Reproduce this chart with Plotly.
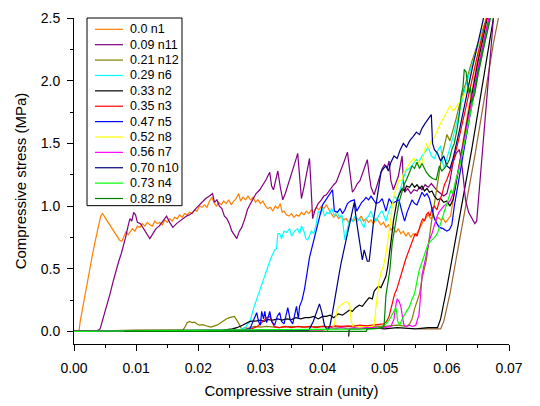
import plotly.graph_objects as go

# Stress-strain curves (strain, stress in MPa) for each sample
n1 = [(0.0, 0.0), (0.0008, 0.0), (0.001, 0.08), (0.0015, 0.22), (0.0021, 0.39), (0.0026, 0.5), (0.003, 0.62),
      (0.0035, 0.74), (0.0039, 0.83), (0.0043, 0.92), (0.0046, 0.94), (0.005, 0.91), (0.0054, 0.88), (0.0058, 0.84),
      (0.0061, 0.82), (0.0065, 0.79), (0.0069, 0.76), (0.0073, 0.73), (0.0077, 0.72), (0.008, 0.76), (0.0084, 0.8),
      (0.0087, 0.77), (0.009, 0.79), (0.0094, 0.82), (0.0098, 0.8), (0.0102, 0.84), (0.0106, 0.83), (0.011, 0.86),
      (0.0114, 0.84), (0.0118, 0.87), (0.0122, 0.85), (0.0126, 0.84), (0.013, 0.88), (0.0134, 0.86), (0.0138, 0.87),
      (0.0142, 0.85), (0.0146, 0.89), (0.015, 0.87), (0.0154, 0.9), (0.0158, 0.88), (0.0162, 0.91), (0.0166, 0.9),
      (0.017, 0.93), (0.0174, 0.91), (0.0178, 0.94), (0.0182, 0.93), (0.0186, 0.95), (0.019, 0.94), (0.0194, 0.97),
      (0.0198, 0.96), (0.0202, 1.0), (0.0206, 0.99), (0.021, 1.01), (0.0214, 0.99), (0.0218, 1.04), (0.0222, 1.07),
      (0.0225, 1.03), (0.0229, 1.0), (0.0233, 1.03), (0.0237, 1.01), (0.0241, 1.04), (0.0245, 1.02), (0.0249, 1.05),
      (0.0253, 1.01), (0.0257, 1.04), (0.0261, 1.06), (0.0265, 1.1), (0.0268, 1.04), (0.0272, 1.07), (0.0276, 1.05),
      (0.028, 1.08), (0.0284, 1.05), (0.0288, 1.07), (0.0292, 1.03), (0.0296, 1.05), (0.03, 1.02), (0.0304, 1.04),
      (0.0308, 1.0), (0.0312, 0.98), (0.0316, 0.99), (0.032, 0.96), (0.0324, 1.0), (0.0328, 0.98), (0.0332, 1.02),
      (0.0335, 0.95), (0.0338, 0.96), (0.0342, 0.93), (0.0346, 0.92), (0.035, 0.94), (0.0354, 0.91), (0.0358, 0.93),
      (0.0362, 0.92), (0.0366, 0.95), (0.037, 0.93), (0.0374, 0.96), (0.0378, 0.94), (0.0382, 0.97), (0.0386, 0.95),
      (0.039, 0.99), (0.0394, 0.97), (0.0398, 1.0), (0.0402, 0.98), (0.0406, 1.01), (0.041, 0.97), (0.0414, 0.94),
      (0.0418, 0.91), (0.0422, 0.93), (0.0426, 0.9), (0.043, 0.92), (0.0434, 0.89), (0.0438, 0.9), (0.0442, 0.87),
      (0.0446, 0.9), (0.045, 0.88), (0.0454, 0.91), (0.0458, 0.89), (0.0462, 0.92), (0.0466, 0.88), (0.047, 0.9),
      (0.0474, 0.87), (0.0478, 0.89), (0.0482, 0.86), (0.0486, 0.9), (0.049, 0.88), (0.0494, 0.85), (0.0498, 0.87),
      (0.0502, 0.83), (0.0506, 0.85), (0.051, 0.81), (0.0514, 0.83), (0.0518, 0.79), (0.0522, 0.82), (0.0526, 0.78),
      (0.053, 0.8), (0.0534, 0.76), (0.0538, 0.79), (0.0542, 0.75), (0.0546, 0.78), (0.055, 0.77), (0.0554, 0.8),
      (0.0558, 0.84), (0.0562, 0.88), (0.0566, 0.9), (0.057, 0.93), (0.0574, 0.9), (0.0578, 0.92), (0.0582, 0.88),
      (0.0586, 0.91), (0.059, 0.89), (0.0594, 0.9), (0.0598, 0.87), (0.0602, 0.9), (0.0606, 0.92), (0.061, 1.05),
      (0.0615, 1.2), (0.062, 1.35), (0.0625, 1.5), (0.063, 1.62), (0.0635, 1.78), (0.064, 1.9), (0.0645, 2.05),
      (0.065, 2.18), (0.0655, 2.3), (0.066, 2.42), (0.0664, 2.5)]

n11 = [(0.0, 0.0), (0.0035, 0.0), (0.0042, 0.02), (0.0048, 0.12), (0.0053, 0.22), (0.0058, 0.3), (0.0063, 0.4),
       (0.0068, 0.5), (0.0072, 0.56), (0.0076, 0.62), (0.0079, 0.67), (0.0083, 0.75), (0.0087, 0.84), (0.009, 0.9),
       (0.0093, 0.88), (0.0096, 0.95), (0.0099, 0.93), (0.0102, 0.87), (0.0107, 0.86), (0.0112, 0.82), (0.0117, 0.78),
       (0.0122, 0.74), (0.0127, 0.78), (0.0132, 0.82), (0.0137, 0.84), (0.0143, 0.88), (0.0149, 0.92), (0.0154, 0.87),
       (0.0159, 0.83), (0.0165, 0.86), (0.017, 0.88), (0.0176, 0.9), (0.0181, 0.92), (0.0186, 0.93), (0.0191, 0.95),
       (0.0196, 0.98), (0.0202, 1.01), (0.0207, 1.04), (0.0212, 1.06), (0.0218, 1.08), (0.0223, 1.1), (0.0226, 1.03),
       (0.023, 1.05), (0.0234, 1.0), (0.0238, 0.98), (0.0242, 0.92), (0.0246, 0.9), (0.025, 0.86), (0.0254, 0.8),
       (0.0258, 0.77), (0.0262, 0.74), (0.0266, 0.8), (0.027, 0.83), (0.0275, 0.9), (0.0279, 0.97), (0.0283, 1.01),
       (0.0288, 1.05), (0.0293, 1.1), (0.0299, 1.13), (0.0304, 1.17), (0.0309, 1.21), (0.0315, 1.27), (0.0318, 1.16),
       (0.0321, 1.13), (0.0325, 1.22), (0.0328, 1.28), (0.0332, 1.15), (0.0336, 1.05), (0.034, 1.1), (0.0344, 1.16),
       (0.0347, 1.21), (0.035, 1.25), (0.0354, 1.32), (0.0357, 1.37), (0.036, 1.42), (0.0363, 1.2), (0.0366, 1.06),
       (0.037, 1.15), (0.0374, 1.25), (0.0379, 1.38), (0.0381, 1.2), (0.0384, 0.9), (0.0388, 0.97), (0.0393, 1.02),
       (0.0398, 1.05), (0.0402, 1.08), (0.0406, 1.09), (0.041, 1.12), (0.0414, 1.15), (0.0418, 1.17), (0.0422, 1.19),
       (0.0427, 1.25), (0.0431, 1.3), (0.0435, 1.36), (0.044, 1.43), (0.0444, 1.25), (0.0448, 1.11), (0.0452, 1.14),
       (0.0456, 1.18), (0.046, 1.2), (0.0464, 1.26), (0.0468, 1.31), (0.0472, 1.37), (0.0475, 1.25), (0.0478, 1.15),
       (0.0483, 1.09), (0.0487, 1.15), (0.0491, 1.22), (0.0496, 1.3), (0.05, 1.33), (0.0504, 1.3), (0.0507, 1.36),
       (0.051, 1.2), (0.0514, 1.13), (0.0518, 1.18), (0.0522, 1.24), (0.0525, 1.32), (0.0528, 1.4), (0.053, 1.2),
       (0.0532, 1.11), (0.0537, 1.14), (0.0542, 1.1), (0.0547, 1.13), (0.0552, 1.12), (0.0556, 1.15), (0.056, 1.13),
       (0.0565, 1.17), (0.057, 1.15), (0.0575, 1.18), (0.058, 1.15), (0.0585, 1.12), (0.059, 1.1), (0.0595, 1.08),
       (0.06, 1.1), (0.0605, 1.2), (0.061, 1.35), (0.0615, 1.42), (0.062, 1.45), (0.0623, 1.38), (0.0627, 1.2),
       (0.063, 1.05), (0.0635, 0.95), (0.064, 0.9), (0.0645, 0.86), (0.0648, 0.88), (0.065, 1.0), (0.0655, 1.3),
       (0.066, 1.6), (0.0665, 1.9), (0.067, 2.2), (0.0675, 2.5)]

n12 = [(0.0, 0.0), (0.005, 0.005), (0.01, 0.01), (0.0175, 0.01), (0.0178, 0.03), (0.0182, 0.07), (0.0186, 0.08),
       (0.019, 0.07), (0.0194, 0.075), (0.0198, 0.06), (0.0202, 0.05), (0.0207, 0.055), (0.0212, 0.05), (0.0216, 0.04),
       (0.022, 0.035), (0.0225, 0.04), (0.023, 0.05), (0.0235, 0.065), (0.024, 0.085), (0.0245, 0.1), (0.025, 0.11),
       (0.0255, 0.115), (0.0258, 0.12), (0.0262, 0.09), (0.0266, 0.05), (0.027, 0.02), (0.0275, 0.03), (0.028, 0.025),
       (0.029, 0.04), (0.03, 0.035), (0.031, 0.04), (0.033, 0.03), (0.035, 0.04), (0.037, 0.035), (0.04, 0.04),
       (0.043, 0.035), (0.046, 0.045), (0.05, 0.04), (0.052, 0.05), (0.0535, 0.04), (0.054, 0.06), (0.0544, 0.1),
       (0.0548, 0.18), (0.0552, 0.25), (0.0556, 0.3), (0.056, 0.42), (0.0564, 0.5), (0.0567, 0.57), (0.057, 0.68),
       (0.0573, 0.8), (0.0576, 0.9), (0.058, 1.02), (0.0584, 1.16), (0.0588, 1.28), (0.0592, 1.4), (0.0596, 1.48),
       (0.06, 1.57), (0.0605, 1.52), (0.061, 1.6), (0.0615, 1.7), (0.062, 1.8), (0.063, 1.98), (0.064, 2.15),
       (0.065, 2.3), (0.066, 2.45), (0.0664, 2.5)]

n6 = [(0.0, 0.0), (0.01, 0.005), (0.02, 0.005), (0.0265, 0.01), (0.0275, 0.03), (0.0283, 0.08), (0.029, 0.2),
      (0.0294, 0.26), (0.0299, 0.32), (0.0304, 0.4), (0.031, 0.49), (0.0315, 0.56), (0.032, 0.62), (0.0323, 0.65),
      (0.0326, 0.66), (0.0328, 0.78), (0.0331, 0.78), (0.0334, 0.74), (0.0338, 0.8), (0.0342, 0.79), (0.0347, 0.82),
      (0.035, 0.76), (0.0355, 0.8), (0.036, 0.82), (0.0363, 0.78), (0.0366, 0.84), (0.037, 0.8), (0.0373, 0.74),
      (0.0376, 0.73), (0.0379, 0.76), (0.0382, 0.8), (0.0386, 0.78), (0.039, 0.86), (0.0393, 0.96), (0.0397, 0.94),
      (0.04, 0.98), (0.0403, 0.92), (0.0407, 0.95), (0.0411, 0.94), (0.0415, 0.98), (0.0419, 0.92), (0.0423, 0.96),
      (0.0427, 0.91), (0.0431, 0.93), (0.0434, 0.78), (0.0436, 0.73), (0.044, 0.82), (0.0444, 0.9), (0.0448, 0.88),
      (0.0452, 0.92), (0.0456, 0.88), (0.046, 0.9), (0.0464, 0.85), (0.0467, 0.83), (0.047, 0.9), (0.0474, 0.92),
      (0.0478, 0.96), (0.0482, 0.9), (0.0486, 0.88), (0.049, 0.92), (0.0493, 0.95), (0.0496, 0.96), (0.05, 0.9),
      (0.0502, 0.88), (0.0506, 0.95), (0.051, 1.0), (0.0512, 1.03), (0.0516, 1.08), (0.052, 1.05), (0.0524, 1.12),
      (0.0528, 1.2), (0.0532, 1.25), (0.0535, 1.29), (0.054, 1.3), (0.0545, 1.33), (0.0551, 1.37), (0.0555, 1.35),
      (0.056, 1.4), (0.0565, 1.43), (0.057, 1.47), (0.0575, 1.4), (0.058, 1.38), (0.0585, 1.44), (0.059, 1.48),
      (0.0593, 1.35), (0.0596, 1.3), (0.06, 1.38), (0.061, 1.55), (0.062, 1.75), (0.063, 1.95), (0.064, 2.12),
      (0.065, 2.28), (0.066, 2.42), (0.0665, 2.5)]

n2 = [(0.0, 0.005), (0.01, 0.008), (0.02, 0.01), (0.024, 0.01), (0.0255, 0.02), (0.0262, 0.03), (0.0271, 0.05),
      (0.0283, 0.08), (0.0294, 0.085), (0.03, 0.09), (0.0306, 0.08), (0.0312, 0.095), (0.032, 0.09), (0.0328, 0.1),
      (0.0335, 0.09), (0.0342, 0.1), (0.035, 0.095), (0.0357, 0.11), (0.0365, 0.1), (0.0372, 0.11), (0.0379, 0.11),
      (0.0386, 0.12), (0.0393, 0.1), (0.04, 0.12), (0.0406, 0.12), (0.0412, 0.13), (0.0418, 0.11), (0.0425, 0.14),
      (0.0432, 0.13), (0.0437, 0.15), (0.0443, 0.17), (0.0448, 0.16), (0.0453, 0.19), (0.0459, 0.21), (0.0464, 0.2),
      (0.047, 0.24), (0.0475, 0.27), (0.048, 0.26), (0.0483, 0.32), (0.0486, 0.34), (0.049, 0.36), (0.0494, 0.35),
      (0.0498, 0.4), (0.0502, 0.44), (0.0505, 0.52), (0.0508, 0.62), (0.0511, 0.75), (0.0514, 0.88), (0.0517, 0.98),
      (0.052, 1.05), (0.0524, 1.1), (0.0528, 1.14), (0.0532, 1.12), (0.0535, 1.16), (0.054, 1.15), (0.0544, 1.18),
      (0.0548, 1.15), (0.0552, 1.17), (0.0556, 1.14), (0.056, 1.16), (0.0564, 1.12), (0.0568, 1.14), (0.0572, 1.11),
      (0.0576, 1.12), (0.058, 1.08), (0.0585, 1.05), (0.059, 1.06), (0.0595, 1.03), (0.06, 1.04), (0.0605, 1.0),
      (0.061, 1.05), (0.0615, 1.18), (0.062, 1.32), (0.063, 1.6), (0.064, 1.88), (0.065, 2.15), (0.066, 2.38),
      (0.0665, 2.5)]

n3 = [(0.0, 0.0), (0.01, 0.005), (0.02, 0.005), (0.027, 0.01), (0.0285, 0.02), (0.0295, 0.04), (0.0302, 0.07),
      (0.031, 0.11), (0.0315, 0.12), (0.0318, 0.08), (0.0322, 0.04), (0.033, 0.03), (0.034, 0.04), (0.035, 0.03),
      (0.036, 0.04), (0.037, 0.035), (0.038, 0.04), (0.039, 0.03), (0.04, 0.04), (0.041, 0.035), (0.042, 0.045),
      (0.043, 0.04), (0.044, 0.045), (0.045, 0.04), (0.046, 0.05), (0.047, 0.045), (0.048, 0.05), (0.049, 0.055),
      (0.0498, 0.06), (0.0503, 0.08), (0.0507, 0.12), (0.051, 0.18), (0.0513, 0.24), (0.0516, 0.3), (0.0519, 0.33),
      (0.0522, 0.38), (0.0525, 0.45), (0.0528, 0.5), (0.0531, 0.55), (0.0534, 0.58), (0.0537, 0.62), (0.054, 0.66),
      (0.0543, 0.7), (0.0546, 0.74), (0.0549, 0.78), (0.0552, 0.76), (0.0555, 0.82), (0.0558, 0.86), (0.0561, 0.9),
      (0.0564, 0.88), (0.0567, 0.93), (0.057, 0.95), (0.0573, 0.92), (0.0576, 0.98), (0.058, 1.0), (0.0584, 0.97),
      (0.0588, 1.04), (0.0592, 1.09), (0.0596, 1.17), (0.06, 1.21), (0.0605, 1.28), (0.061, 1.35), (0.062, 1.55),
      (0.063, 1.78), (0.064, 2.0), (0.065, 2.22), (0.066, 2.42), (0.0664, 2.5)]

n5 = [(0.0, 0.0), (0.01, 0.005), (0.02, 0.005), (0.027, 0.01), (0.0283, 0.02), (0.0288, 0.08), (0.0294, 0.15),
      (0.0297, 0.08), (0.03, 0.05), (0.0302, 0.16), (0.0305, 0.1), (0.0307, 0.16), (0.031, 0.07), (0.0315, 0.16),
      (0.0318, 0.08), (0.0323, 0.05), (0.0327, 0.12), (0.0331, 0.15), (0.0334, 0.08), (0.0338, 0.06), (0.0344, 0.19),
      (0.0348, 0.09), (0.0352, 0.06), (0.0358, 0.2), (0.0361, 0.1), (0.0363, 0.2), (0.0367, 0.25), (0.0371, 0.34),
      (0.0374, 0.45), (0.0376, 0.52), (0.0379, 0.59), (0.0382, 0.65), (0.0387, 0.75), (0.0391, 0.85), (0.0395, 0.93),
      (0.04, 1.01), (0.0404, 1.04), (0.0408, 1.07), (0.0412, 1.1), (0.0416, 1.13), (0.0419, 0.96), (0.0424, 0.95),
      (0.0428, 0.98), (0.0432, 0.94), (0.0436, 0.97), (0.044, 1.02), (0.0445, 1.04), (0.0451, 1.05), (0.0455, 0.96),
      (0.0459, 1.0), (0.0463, 1.03), (0.0467, 1.05), (0.047, 1.07), (0.0474, 1.05), (0.0478, 1.08), (0.0482, 1.05),
      (0.0486, 1.02), (0.0491, 1.03), (0.0496, 1.06), (0.0502, 0.96), (0.0507, 1.06), (0.0512, 1.02), (0.0518, 1.04),
      (0.0523, 1.05), (0.0528, 0.95), (0.0532, 0.88), (0.0536, 0.95), (0.054, 1.0), (0.0544, 1.05), (0.0548, 1.02),
      (0.0552, 1.01), (0.0556, 1.06), (0.056, 1.11), (0.0564, 1.08), (0.0568, 1.1), (0.0572, 1.06), (0.0576, 0.98),
      (0.058, 0.9), (0.0584, 0.86), (0.0588, 0.83), (0.0594, 0.82), (0.06, 0.8), (0.0604, 0.81), (0.0608, 0.85),
      (0.0612, 1.0), (0.0617, 1.15), (0.0622, 1.3), (0.063, 1.52), (0.064, 1.8), (0.065, 2.08), (0.066, 2.32),
      (0.0668, 2.5)]

n8 = [(0.0, 0.0), (0.01, 0.005), (0.02, 0.005), (0.03, 0.01), (0.04, 0.01), (0.0415, 0.02), (0.0419, 0.06),
      (0.0422, 0.14), (0.0424, 0.18), (0.0427, 0.2), (0.043, 0.21), (0.0434, 0.22), (0.0438, 0.24), (0.0441, 0.23),
      (0.0444, 0.2), (0.0446, 0.08), (0.045, 0.03), (0.046, 0.04), (0.047, 0.035), (0.048, 0.04), (0.0483, 0.05),
      (0.0486, 0.2), (0.0488, 0.29), (0.0491, 0.4), (0.0494, 0.47), (0.0498, 0.52), (0.0502, 0.62), (0.0505, 0.72),
      (0.0509, 0.86), (0.0512, 1.0), (0.0515, 1.08), (0.0519, 1.15), (0.0523, 1.21), (0.0527, 1.2), (0.053, 1.26),
      (0.0535, 1.3), (0.054, 1.34), (0.0543, 1.36), (0.0547, 1.38), (0.0551, 1.33), (0.0555, 1.36), (0.0559, 1.32),
      (0.0563, 1.42), (0.0567, 1.5), (0.057, 1.46), (0.0575, 1.52), (0.058, 1.55), (0.0584, 1.6), (0.0588, 1.64),
      (0.0592, 1.68), (0.0596, 1.71), (0.06, 1.75), (0.0605, 1.8), (0.061, 1.76), (0.0615, 1.79), (0.062, 1.83),
      (0.0625, 1.86), (0.063, 1.9), (0.0635, 1.97), (0.064, 2.08), (0.065, 2.3), (0.066, 2.5)]

n7 = [(0.0, 0.0), (0.005, 0.0), (0.01, 0.005), (0.02, 0.005), (0.03, 0.01), (0.04, 0.01), (0.0415, 0.03),
      (0.042, 0.02), (0.043, 0.03), (0.044, 0.02), (0.045, 0.03), (0.046, 0.025), (0.047, 0.03), (0.048, 0.03),
      (0.049, 0.025), (0.05, 0.03), (0.051, 0.04), (0.0515, 0.1), (0.0518, 0.21), (0.052, 0.26), (0.0523, 0.24),
      (0.0526, 0.2), (0.0529, 0.1), (0.0531, 0.05), (0.0535, 0.04), (0.054, 0.05), (0.0545, 0.04), (0.055, 0.05),
      (0.0553, 0.1), (0.0555, 0.13), (0.0558, 0.3), (0.056, 0.45), (0.0563, 0.52), (0.0566, 0.6), (0.0569, 0.66),
      (0.0572, 0.73), (0.0576, 0.78), (0.058, 0.85), (0.0583, 0.9), (0.0587, 0.95), (0.0591, 0.98), (0.0595, 1.0),
      (0.06, 1.02), (0.0605, 1.04), (0.061, 1.1), (0.0615, 1.2), (0.062, 1.32), (0.063, 1.58), (0.064, 1.85),
      (0.065, 2.1), (0.066, 2.32), (0.0668, 2.5)]

n10 = [(0.0, 0.0), (0.01, 0.005), (0.02, 0.005), (0.03, 0.01), (0.036, 0.01), (0.0378, 0.01), (0.0385, 0.08),
       (0.039, 0.15), (0.0395, 0.22), (0.0399, 0.15), (0.0403, 0.05), (0.0408, 0.01), (0.0412, 0.05), (0.0416, 0.15),
       (0.042, 0.28), (0.0424, 0.38), (0.0427, 0.47), (0.043, 0.55), (0.0434, 0.64), (0.0438, 0.73), (0.0442, 0.82),
       (0.0446, 0.93), (0.0451, 1.03), (0.0454, 0.9), (0.0457, 0.8), (0.0459, 0.73), (0.0462, 0.62), (0.0464, 0.57),
       (0.0467, 0.65), (0.047, 0.6), (0.0472, 0.56), (0.0475, 0.56), (0.0478, 0.7), (0.048, 0.8), (0.0483, 0.92),
       (0.0486, 1.01), (0.049, 1.15), (0.0494, 1.27), (0.0498, 1.3), (0.0502, 1.32), (0.0506, 1.28), (0.051, 1.35),
       (0.0515, 1.4), (0.052, 1.38), (0.0525, 1.45), (0.053, 1.5), (0.0535, 1.47), (0.054, 1.52), (0.0545, 1.55),
       (0.0551, 1.59), (0.0556, 1.57), (0.056, 1.62), (0.0565, 1.66), (0.057, 1.7), (0.0575, 1.73), (0.0577, 1.5),
       (0.058, 1.45), (0.0585, 1.42), (0.059, 1.36), (0.0595, 1.4), (0.06, 1.32), (0.0605, 1.3), (0.061, 1.38),
       (0.062, 1.6), (0.063, 1.85), (0.064, 2.08), (0.065, 2.3), (0.0659, 2.5)]

n4 = [(0.0, 0.0), (0.01, 0.005), (0.02, 0.01), (0.03, 0.01), (0.04, 0.015), (0.045, 0.02), (0.048, 0.02),
      (0.0495, 0.03), (0.0502, 0.06), (0.0507, 0.09), (0.051, 0.12), (0.0514, 0.15), (0.0518, 0.19), (0.0521, 0.08),
      (0.0524, 0.05), (0.0528, 0.1), (0.0532, 0.14), (0.0535, 0.16), (0.054, 0.2), (0.0544, 0.26), (0.0548, 0.3),
      (0.0551, 0.38), (0.0555, 0.48), (0.0559, 0.54), (0.0563, 0.6), (0.0567, 0.66), (0.057, 0.7), (0.0574, 0.72),
      (0.0578, 0.74), (0.0582, 0.76), (0.0586, 0.8), (0.059, 0.86), (0.0594, 0.92), (0.0598, 0.98), (0.0602, 1.05),
      (0.0607, 1.13), (0.061, 1.1), (0.0614, 1.2), (0.062, 1.3), (0.063, 1.55), (0.064, 1.8), (0.065, 2.05),
      (0.066, 2.28), (0.067, 2.5)]

n9 = [(0.008, 0.0), (0.02, 0.0), (0.03, 0.0), (0.04, 0.0), (0.047, 0.0), (0.0472, 0.02), (0.048, 0.02),
      (0.049, 0.025), (0.0495, 0.03), (0.0499, 0.05), (0.0502, 0.29), (0.0505, 0.38), (0.0508, 0.48), (0.0512, 0.7),
      (0.0515, 0.8), (0.0518, 0.9), (0.0523, 1.03), (0.0527, 1.1), (0.0531, 1.17), (0.0535, 1.21), (0.054, 1.27),
      (0.0544, 1.32), (0.0548, 1.3), (0.0552, 1.35), (0.0556, 1.3), (0.056, 1.34), (0.0564, 1.3), (0.0567, 1.27),
      (0.0572, 1.24), (0.0577, 1.22), (0.0583, 1.21), (0.0588, 1.32), (0.0592, 1.28), (0.0596, 1.3), (0.06, 1.33),
      (0.0604, 1.37), (0.0608, 1.45), (0.0612, 1.5), (0.0616, 1.6), (0.062, 1.73), (0.0623, 1.88), (0.0626, 1.95),
      (0.0628, 2.09), (0.0631, 2.07), (0.0633, 1.98), (0.0636, 1.9), (0.0638, 1.95), (0.064, 1.83), (0.0645, 1.9),
      (0.065, 2.05), (0.066, 2.28), (0.067, 2.5)]

# Repeat loadings that stay at zero until densification (not listed in the legend)
reload_a = [(0.0442, -0.04), (0.0443, 0.02), (0.046, 0.02), (0.048, 0.03), (0.05, 0.02), (0.052, 0.03),
            (0.055, 0.02), (0.057, 0.03), (0.0585, 0.03), (0.059, 0.1), (0.06, 0.35), (0.061, 0.62), (0.062, 0.9),
            (0.063, 1.18), (0.064, 1.45), (0.065, 1.75), (0.066, 2.05), (0.067, 2.35), (0.0675, 2.5)]
reload_b = [(0.0555, 0.02), (0.058, 0.02), (0.059, 0.02), (0.0595, 0.08), (0.0605, 0.3), (0.0615, 0.58),
            (0.0625, 0.85), (0.0635, 1.12), (0.0645, 1.4), (0.0655, 1.7), (0.0665, 2.0), (0.0675, 2.3), (0.0683, 2.5)]

curves = [n1, n11, n12, n6, n2, n3, n5, n8, n7, n10, n4, n9]
labels = ["0.0 n1", "0.09 n11", "0.21 n12", "0.29 n6", "0.33 n2", "0.35 n3",
          "0.47 n5", "0.52 n8", "0.56 n7", "0.70 n10", "0.73 n4", "0.82 n9"]
colors = ["#FF8000", "#800080", "#808000", "#00FFFF", "#000000", "#FF0000",
          "#0000FF", "#FFFF00", "#FF00FF", "#000080", "#00FF00", "#008000"]

x_ticks = [0.0, 0.01, 0.02, 0.03, 0.04, 0.05, 0.06, 0.07]
x_tick_text = ["0.00", "0.01", "0.02", "0.03", "0.04", "0.05", "0.06", "0.07"]
y_ticks = [0.0, 0.5, 1.0, 1.5, 2.0, 2.5]
y_tick_text = ["0.0", "0.5", "1.0", "1.5", "2.0", "2.5"]

FONT = "Liberation Sans, Arial, sans-serif"
LINE_W = 1.2

fig = go.Figure()

for pts, color in [(reload_b, "#996633"), (reload_a, "#000000")]:
    xs, ys = zip(*pts)
    fig.add_trace(go.Scatter(x=xs, y=ys, mode="lines", line=dict(color=color, width=LINE_W),
                             showlegend=False, hoverinfo="skip"))

for pts, name, color in zip(curves, labels, colors):
    xs, ys = zip(*pts)
    fig.add_trace(go.Scatter(x=xs, y=ys, mode="lines", name=name,
                             line=dict(color=color, width=LINE_W), showlegend=False))

# Plot-area geometry in pixels, used to place the legend box
W, H = 540, 406
L, R, T, B = 74, 31, 10, 59
pw, ph = W - L - R, H - T - B


def px_x(px):
    return (px - L) / pw


def px_y(py):
    return (H - B - py) / ph


shapes = [dict(type="rect", xref="paper", yref="paper",
               x0=px_x(87), x1=px_x(182), y0=px_y(204), y1=px_y(10),
               line=dict(color="black", width=1), fillcolor="white", layer="above")]
annotations = []
row0, row_step = 21.7, 15.9
for i, (name, color) in enumerate(zip(labels, colors)):
    ry = row0 + i * row_step
    shapes.append(dict(type="line", xref="paper", yref="paper",
                       x0=px_x(95), x1=px_x(123), y0=px_y(ry), y1=px_y(ry),
                       line=dict(color=color, width=LINE_W), layer="above"))
    annotations.append(dict(text=name, xref="paper", yref="paper", x=px_x(127.5), y=px_y(ry),
                            xanchor="left", yanchor="middle", showarrow=False,
                            font=dict(family=FONT, size=12.5, color="black")))

fig.update_layout(
    width=W, height=H,
    margin=dict(l=L, r=R, t=T, b=B),
    plot_bgcolor="white", paper_bgcolor="white",
    font=dict(family=FONT, size=14, color="black"),
    shapes=shapes, annotations=annotations,
    showlegend=False,
    xaxis=dict(range=[0, 0.07], tickvals=x_ticks, ticktext=x_tick_text,
               showline=True, linecolor="black", linewidth=1, mirror=False,
               ticks="outside", ticklen=6, tickwidth=1, tickcolor="black",
               minor=dict(ticks="outside", ticklen=3, dtick=0.005, tickcolor="black", showgrid=False),
               showgrid=False, zeroline=False, ticklabelstandoff=5,
               tickfont=dict(family=FONT, size=14),
               title=dict(text="Compressive strain (unity)", font=dict(family=FONT, size=15), standoff=10)),
    yaxis=dict(range=[-0.1, 2.5], tickvals=y_ticks, ticktext=y_tick_text,
               showline=True, linecolor="black", linewidth=1, mirror=False,
               ticks="outside", ticklen=6, tickwidth=1, tickcolor="black",
               minor=dict(ticks="outside", ticklen=3, dtick=0.25, tickcolor="black", showgrid=False),
               showgrid=False, zeroline=False, ticklabelstandoff=4,
               tickfont=dict(family=FONT, size=14),
               title=dict(text="Compressive stress (MPa)", font=dict(family=FONT, size=15), standoff=10)),
)

fig.write_html("out.html")
